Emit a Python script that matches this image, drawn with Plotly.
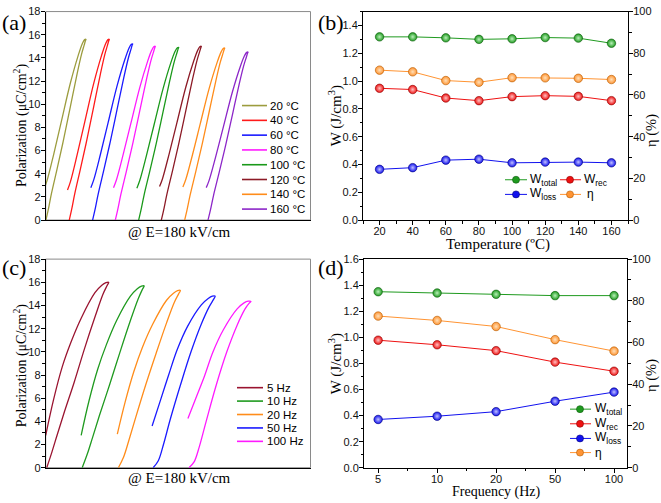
import plotly.graph_objects as go

W, H = 661, 503

# ---------------- data ----------------
# panel (a): unipolar P-E loops at 180 kV/cm, different temperatures
temp_labels = ["20 °C", "40 °C", "60 °C", "80 °C", "100 °C", "120 °C", "140 °C", "160 °C"]
temp_colors = ["#9c9c3e", "#ff1a1a", "#1a1aff", "#ff1aff", "#1a991a", "#8c1a26", "#ff8c1a", "#8c26c8"]
E_up_a = [0, 10, 25, 50, 80, 110, 140, 160, 172, 178, 180]
E_down_a = [180, 174, 164, 145, 110, 70, 35, 5, -8]
P_up_a = [
    [0, 0.85, 2.3, 4.4, 7.0, 9.8, 12.6, 14.3, 15.1, 15.5, 15.6],
    [0, 0.85, 2.3, 4.4, 7.0, 9.8, 12.6, 14.3, 15.1, 15.5, 15.6],
    [0, 0.83, 2.24, 4.29, 6.82, 9.55, 12.28, 13.93, 14.71, 15.1, 15.2],
    [0, 0.82, 2.21, 4.23, 6.73, 9.42, 12.12, 13.75, 14.52, 14.9, 15.0],
    [0, 0.81, 2.2, 4.2, 6.69, 9.36, 12.03, 13.66, 14.42, 14.8, 14.9],
    [0, 0.82, 2.21, 4.23, 6.73, 9.42, 12.12, 13.75, 14.52, 14.9, 15.0],
    [0, 0.81, 2.19, 4.19, 6.66, 9.33, 12.0, 13.61, 14.37, 14.75, 14.85],
    [0, 0.79, 2.14, 4.09, 6.51, 9.11, 11.71, 13.29, 14.04, 14.41, 14.5],
]
P_down_a = [
    [15.6, 15.58, 15.25, 14.2, 11.83, 8.56, 5.68, 3.4, 2.7],
    [15.6, 15.58, 15.25, 14.2, 11.8, 8.5, 5.6, 3.3, 2.6],
    [15.2, 15.18, 14.86, 13.86, 11.58, 8.43, 5.66, 3.47, 2.8],
    [15.0, 14.98, 14.67, 13.68, 11.44, 8.34, 5.62, 3.46, 2.8],
    [14.9, 14.88, 14.57, 13.59, 11.35, 8.27, 5.56, 3.41, 2.75],
    [15.0, 14.98, 14.67, 13.69, 11.47, 8.39, 5.7, 3.55, 2.9],
    [14.85, 14.83, 14.52, 13.55, 11.35, 8.3, 5.62, 3.5, 2.85],
    [14.5, 14.48, 14.18, 13.24, 11.08, 8.11, 5.5, 3.43, 2.8],
]
offset_a = [0, 105, 210, 312, 417, 519, 624, 729]   # horizontal shift of each loop (kV/cm)

# panel (c): loops at different frequencies
freq_labels = ["5 Hz", "10 Hz", "20 Hz", "50 Hz", "100 Hz"]
freq_colors = ["#9a1430", "#1f9a1f", "#ff8c1a", "#1a1aff", "#ff1aff"]
E_up_c = [0, 15, 30, 50, 80, 110, 140, 163, 175, 180]
E_down_c = [180, 172, 160, 140, 100, 70, 45, 20, -3]
P_up_c = [
    [0, 1.35, 2.8, 4.7, 7.4, 10.3, 13.0, 14.95, 15.7, 16.0],
    [0, 1.2, 2.6, 4.5, 7.2, 10.0, 12.7, 14.6, 15.4, 15.7],
    [0, 0.9, 2.3, 4.3, 7.2, 9.9, 12.5, 14.3, 15.0, 15.3],
    [0, 0.6, 2.0, 4.2, 7.2, 10.0, 12.4, 13.9, 14.5, 14.8],
    [0, 0.5, 1.8, 4.0, 7.2, 10.0, 12.3, 13.7, 14.2, 14.35],
]
P_down_c = [
    [16.0, 15.97, 15.75, 15.1, 12.9, 10.8, 8.7, 5.9, 2.8],
    [15.7, 15.67, 15.45, 14.8, 12.7, 10.6, 8.5, 5.8, 2.8],
    [15.3, 15.28, 15.05, 14.45, 12.4, 10.4, 8.3, 5.7, 2.9],
    [14.8, 14.8, 14.6, 14.05, 12.2, 10.2, 8.0, 5.7, 3.6],
    [14.35, 14.37, 14.22, 13.7, 11.9, 10.0, 7.9, 6.0, 4.25],
]
offset_c = [3, 106, 211, 312, 416]

# panel (b): energy storage vs temperature
temperature = [20, 40, 60, 80, 100, 120, 140, 160]
Wtot_T = [1.318, 1.318, 1.311, 1.300, 1.304, 1.313, 1.309, 1.272]
Wrec_T = [0.948, 0.939, 0.878, 0.859, 0.888, 0.895, 0.890, 0.859]
Wloss_T = [0.365, 0.377, 0.431, 0.438, 0.412, 0.417, 0.417, 0.412]
eta_T = [71.9, 71.1, 66.9, 66.1, 68.3, 68.2, 68.0, 67.4]

# panel (d): energy storage vs frequency
freq_ticks = ["5", "10", "20", "50", "100"]
Wtot_f = [1.35, 1.34, 1.33, 1.32, 1.32]
Wrec_f = [0.978, 0.943, 0.898, 0.81, 0.74]
Wloss_f = [0.37, 0.395, 0.43, 0.51, 0.58]
eta_f = [72.7, 70.6, 67.7, 61.4, 55.9]

series_names = ["W<sub>total</sub>", "W<sub>rec</sub>", "W<sub>loss</sub>", "η"]
series_colors = ["#1f9a1f", "#ee1111", "#1111ee", "#ff9433"]
series_light = ["#b8f0b8", "#ffc0c0", "#c0c0ff", "#ffe0b8"]
series_dark = ["#0b5a0b", "#8a0000", "#00007a", "#b35a00"]

# ---------------- helpers ----------------
def px(x):
    return x / W

def py(y):
    return 1 - y / H

SANS = "Liberation Sans, Arial, sans-serif"
SERIF = "Liberation Serif, Times New Roman, serif"

fig = go.Figure()

# panel (a) loops
for i in range(len(temp_labels)):
    xs = [offset_a[i] + e for e in E_up_a] + [offset_a[i] + e for e in E_down_a[1:]]
    ys = P_up_a[i] + P_down_a[i][1:]
    fig.add_trace(go.Scatter(x=xs, y=ys, mode="lines", xaxis="x", yaxis="y",
                             line=dict(color=temp_colors[i], width=1.3, shape="spline", smoothing=1.0),
                             showlegend=False))

# panel (c) loops
for i in range(len(freq_labels)):
    xs = [offset_c[i] + e for e in E_up_c] + [offset_c[i] + e for e in E_down_c[1:]]
    ys = P_up_c[i] + P_down_c[i][1:]
    fig.add_trace(go.Scatter(x=xs, y=ys, mode="lines", xaxis="x3", yaxis="y4",
                             line=dict(color=freq_colors[i], width=1.3, shape="spline", smoothing=1.0),
                             showlegend=False))

def add_energy(xvals, wt, wr, wl, eta, xa, ya, ya2):
    data = [wt, wr, wl, eta]
    for k in range(4):
        fig.add_trace(go.Scatter(
            x=xvals, y=data[k], mode="lines+markers", xaxis=xa, yaxis=(ya2 if k == 3 else ya),
            line=dict(color=series_colors[k], width=1),
            marker=dict(size=8.5, color=series_colors[k],
                        gradient=dict(type="radial", color=series_light[k]),
                        line=dict(color=series_dark[k], width=0.6)),
            showlegend=False))

add_energy(temperature, Wtot_T, Wrec_T, Wloss_T, eta_T, "x2", "y2", "y3")
add_energy(list(range(len(freq_ticks))), Wtot_f, Wrec_f, Wloss_f, eta_f, "x4", "y5", "y6")

# ---------------- axes ----------------
tickfont = dict(family=SANS, size=11, color="#111")
dom_a_x = [px(45.7), px(310.5)]
dom_b_x = [px(363), px(628)]
dom_d_x = [px(364), px(627)]
dom_top_y = [py(219.3), py(5.7)]
dom_bot_y = [py(473), py(259.3)]

common_y = dict(showline=True, linecolor="black", linewidth=1, ticks="outside", ticklen=4,
                tickwidth=1, tickcolor="black", showgrid=False, zeroline=False, tickfont=tickfont,
                ticklabelstandoff=-2)
minor_out = dict(ticklen=2.5, ticks="outside", tickcolor="black")
common_x = dict(common_y, ticklabelstandoff=-3)

fig.update_layout(
    xaxis=dict(domain=dom_a_x, range=[-1, 1190], anchor="y", showline=True, linecolor="black",
               showticklabels=False, ticks="", showgrid=False, zeroline=False),
    yaxis=dict(domain=dom_top_y, range=[0, 18], dtick=2, anchor="x",
               minor=dict(dtick=1, **minor_out), **common_y),
    xaxis3=dict(domain=dom_a_x, range=[0, 769], anchor="y4", showline=True, linecolor="black",
                showticklabels=False, ticks="", showgrid=False, zeroline=False),
    yaxis4=dict(domain=dom_bot_y, range=[0, 18], dtick=2, anchor="x3",
                minor=dict(dtick=1, **minor_out), **common_y),
    xaxis2=dict(domain=dom_b_x, range=[10, 170], dtick=20, anchor="y2", mirror=True,
                minor=dict(dtick=10, **minor_out), **common_x),
    yaxis2=dict(domain=dom_top_y, range=[0, 1.5], dtick=0.2, tickformat=".1f", anchor="x2",
                minor=dict(dtick=0.1, **minor_out), **common_y),
    yaxis3=dict(range=[0, 100], dtick=20, overlaying="y2", side="right", anchor="x2",
                minor=dict(dtick=10, **minor_out), **common_y),
    xaxis4=dict(domain=dom_d_x, range=[-0.24, 4.22], tickvals=list(range(len(freq_ticks))),
                ticktext=freq_ticks, anchor="y5", mirror=True,
                minor=dict(tickvals=[0.5, 1.5, 2.5, 3.5], **minor_out), **common_x),
    yaxis5=dict(domain=dom_bot_y, range=[0, 1.6], dtick=0.2, tickformat=".1f", anchor="x4",
                minor=dict(dtick=0.1, **minor_out), **common_y),
    yaxis6=dict(range=[0, 100], dtick=20, overlaying="y5", side="right", anchor="x4",
                minor=dict(dtick=10, **minor_out), **common_y),
)

shapes = []
annotations = []

# grey frames for (a) and (c)
for xr, yr in [("x", "y"), ("x3", "y4")]:
    shapes.append(dict(type="rect", xref=xr + " domain", yref=yr + " domain", x0=0, x1=1, y0=0, y1=1,
                       line=dict(color="#8a8a8a", width=1), layer="below"))

def text(x, y, s, size, family=SERIF, angle=0, xanchor="center"):
    annotations.append(dict(x=px(x), y=py(y), xref="paper", yref="paper", text=s, showarrow=False,
                            textangle=angle, xanchor=xanchor, yanchor="middle",
                            font=dict(family=family, size=size, color="black")))

# legends for loops (a) and (c)
def line_legend(labels, colors, x0, x1, xt, y0, dy):
    for i, lab in enumerate(labels):
        yy = y0 + dy * i
        shapes.append(dict(type="line", xref="paper", yref="paper", x0=px(x0), x1=px(x1),
                           y0=py(yy), y1=py(yy), line=dict(color=colors[i], width=1.6)))
        text(xt, yy, lab, 11.5, SANS, xanchor="left")

line_legend(temp_labels, temp_colors, 242, 267, 268, 102, 15.15)
line_legend(freq_labels, freq_colors, 237, 263, 265, 391, 13.75)

# legends for energy panels
def marker_legend(k, xl0, xl1, xm, xt, yy):
    shapes.append(dict(type="line", xref="paper", yref="paper", x0=px(xl0), x1=px(xl1),
                       y0=py(yy), y1=py(yy), line=dict(color=series_colors[k], width=1)))
    shapes.append(dict(type="circle", xref="paper", yref="paper", xsizemode="pixel", ysizemode="pixel",
                       xanchor=px(xm), yanchor=py(yy), x0=-3.5, x1=3.5, y0=-3.5, y1=3.5,
                       fillcolor=series_colors[k], line=dict(color=series_dark[k], width=0.6)))
    text(xt, yy, series_names[k], 12, SANS, xanchor="left")

marker_legend(0, 505, 527, 516, 528, 178)
marker_legend(1, 560, 581, 570, 582, 178)
marker_legend(2, 505, 527, 516, 528, 193)
marker_legend(3, 560, 581, 570, 585, 193)
for k, yy in enumerate([413, 428, 443, 457.5]):
    marker_legend(k, 570, 591, 580, 593, yy)

# axis titles and panel labels
text(20, 122, "Polarization (μC/cm<sup>2</sup>)", 14, angle=-90)
text(20, 368, "Polarization (μC/cm<sup>2</sup>)", 14, angle=-90)
text(179, 232, "@ E=180 kV/cm", 15)
text(179, 484, "@ E=180 kV/cm", 15)
text(335, 112, "W (J/cm<sup>3</sup>)", 15, angle=-90)
text(335, 366, "W (J/cm<sup>3</sup>)", 15, angle=-90)
text(652, 128, "η (%)", 14.5, angle=-90)
text(652, 379, "η (%)", 14.5, angle=-90)
text(498, 244.5, "Temperature (ºC)", 15)
text(496, 497.5, "Frequency (Hz)", 14)
text(14, 17, "(a)", 22)
text(331, 17, "(b)", 22)
text(14, 268, "(c)", 22)
text(331, 268, "(d)", 22)

fig.update_layout(width=W, height=H, margin=dict(l=0, r=0, t=0, b=0),
                  paper_bgcolor="white", plot_bgcolor="white",
                  shapes=shapes, annotations=annotations, showlegend=False)

fig.write_html("out.html")
